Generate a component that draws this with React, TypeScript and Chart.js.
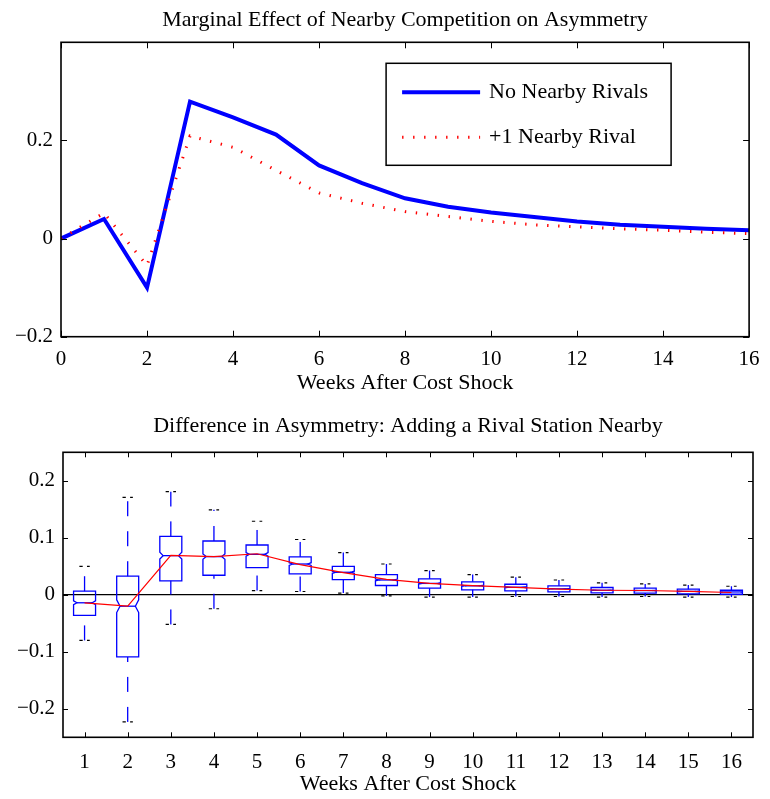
import React, { useEffect, useRef } from 'react';
import { Chart, registerables } from 'chart.js';

Chart.register(...registerables);

// ---------- Top panel data ----------
const TOP_TITLE = 'Marginal Effect of Nearby Competition on Asymmetry';
const BOTTOM_TITLE = 'Difference in Asymmetry: Adding a Rival Station Nearby';
const X_LABEL = 'Weeks After Cost Shock';

const weeks = [0, 1, 2, 3, 4, 5, 6, 7, 8, 9, 10, 11, 12, 13, 14, 15, 16];
const noNearbyRivals = [0, 0.04, -0.1, 0.279, 0.247, 0.212, 0.149, 0.113, 0.082, 0.065, 0.053, 0.044, 0.035, 0.028, 0.024, 0.02, 0.017];
const oneNearbyRival = [0, 0.052, -0.055, 0.209, 0.186, 0.139, 0.093, 0.072, 0.055, 0.045, 0.035, 0.028, 0.024, 0.02, 0.017, 0.013, 0.01];
const topXTicks = [0, 2, 4, 6, 8, 10, 12, 14, 16];
const topYTicks = [-0.2, 0, 0.2];

// ---------- Bottom panel data (box plots) ----------
const boxWeeks = [1, 2, 3, 4, 5, 6, 7, 8, 9, 10, 11, 12, 13, 14, 15, 16];
const upperAdjacent = [0.05, 0.171, 0.181, 0.149, 0.129, 0.097, 0.074, 0.054, 0.0425, 0.0355, 0.031, 0.026, 0.021, 0.019, 0.017, 0.015];
const q3 = [0.0063, 0.0326, 0.1025, 0.0944, 0.0874, 0.0664, 0.05, 0.0355, 0.028, 0.0227, 0.0185, 0.0157, 0.0128, 0.0116, 0.0098, 0.008];
const medians = [-0.014, -0.02, 0.0687, 0.067, 0.071, 0.054, 0.0395, 0.026, 0.02, 0.0157, 0.0133, 0.0105, 0.008, 0.0075, 0.006, 0.005];
const q1 = [-0.036, -0.109, 0.0245, 0.0343, 0.0477, 0.0367, 0.0267, 0.0163, 0.0116, 0.0087, 0.007, 0.0052, 0.0035, 0.003, 0.0017, 0.001];
const lowerAdjacent = [-0.08, -0.223, -0.052, -0.0245, 0.0075, 0.0058, 0.003, -0.002, -0.004, -0.004, -0.003, -0.003, -0.004, -0.003, -0.004, -0.004];
const centralLine = [-0.014, -0.02, 0.069, 0.067, 0.072, 0.053, 0.039, 0.027, 0.02, 0.016, 0.013, 0.01, 0.008, 0.0075, 0.006, 0.004];
const bottomXTicks = [1, 2, 3, 4, 5, 6, 7, 8, 9, 10, 11, 12, 13, 14, 15, 16];
const bottomYTicks = [-0.2, -0.1, 0, 0.1, 0.2];
const SAMPLE_SIZE = 400;

const FONT = '"Liberation Serif", "Times New Roman", Times, serif';
const BLUE = '#0000ff';
const RED = '#ff0000';

const fmtY = (v: number) => {
  if (Math.abs(v) < 1e-9) return '0';
  return (v < 0 ? '\u2212' : '') + Math.abs(v).toFixed(1);
};

const framePlugin = {
  id: 'frame',
  afterDatasetsDraw(chart: any, _args: any, opts: any) {
    const { ctx, chartArea, scales } = chart;
    const { left, right, top, bottom } = chartArea;
    const len = opts.tickLength || 5;
    ctx.save();
    ctx.strokeStyle = '#000';
    ctx.lineWidth = 1;
    ctx.setLineDash([]);
    ctx.beginPath();
    scales.x.ticks.forEach((t: any) => {
      const px = Math.round(scales.x.getPixelForValue(t.value)) + 0.5;
      ctx.moveTo(px, bottom);
      ctx.lineTo(px, bottom - len);
      ctx.moveTo(px, top);
      ctx.lineTo(px, top + len);
    });
    scales.y.ticks.forEach((t: any) => {
      const py = Math.round(scales.y.getPixelForValue(t.value)) + 0.5;
      ctx.moveTo(left, py);
      ctx.lineTo(left + len, py);
      ctx.moveTo(right, py);
      ctx.lineTo(right - len, py);
    });
    ctx.stroke();
    ctx.lineWidth = 1.6;
    ctx.strokeRect(left, top, right - left, bottom - top);
    ctx.restore();
  },
};

const legendPlugin = {
  id: 'boxLegend',
  afterDraw(chart: any) {
    const { ctx, chartArea } = chart;
    const bx = chartArea.right - 363;
    const by = chartArea.top + 21;
    const bw = 285;
    const bh = 102;
    ctx.save();
    ctx.fillStyle = '#fff';
    ctx.fillRect(bx, by, bw, bh);
    ctx.strokeStyle = '#000';
    ctx.lineWidth = 1.5;
    ctx.strokeRect(bx, by, bw, bh);
    const rows = [29, 74];
    chart.data.datasets.forEach((ds: any, i: number) => {
      const yy = by + rows[i];
      ctx.beginPath();
      ctx.strokeStyle = ds.borderColor;
      ctx.lineWidth = ds.borderWidth;
      ctx.setLineDash(ds.borderDash || []);
      ctx.lineCap = 'butt';
      ctx.moveTo(bx + 16, yy);
      ctx.lineTo(bx + 94, yy);
      ctx.stroke();
      ctx.setLineDash([]);
      ctx.fillStyle = '#000';
      ctx.font = `22px ${FONT}`;
      ctx.textBaseline = 'middle';
      ctx.textAlign = 'left';
      ctx.fillText(ds.label, bx + 103, yy);
    });
    ctx.restore();
  },
};

const boxPlugin = {
  id: 'boxes',
  beforeDatasetsDraw(chart: any) {
    const { ctx, scales } = chart;
    const x = scales.x;
    const y = scales.y;
    ctx.save();
    boxWeeks.forEach((w, i) => {
      const cx = x.getPixelForValue(w);
      const hw = x.getPixelForValue(w + 0.255) - cx;
      const capHw = x.getPixelForValue(w + 0.12) - cx;
      const nw = hw * 0.7;
      const notch = (1.57 * (q3[i] - q1[i])) / Math.sqrt(SAMPLE_SIZE);
      const pHi = y.getPixelForValue(upperAdjacent[i]);
      const pLo = y.getPixelForValue(lowerAdjacent[i]);
      const pQ3 = y.getPixelForValue(q3[i]);
      const pQ1 = y.getPixelForValue(q1[i]);
      const pMed = y.getPixelForValue(medians[i]);
      const pNt = y.getPixelForValue(medians[i] + notch);
      const pNb = y.getPixelForValue(medians[i] - notch);

      // whiskers
      ctx.strokeStyle = BLUE;
      ctx.lineWidth = 1.3;
      ctx.setLineDash([15, 15]);
      ctx.beginPath();
      ctx.moveTo(cx, pLo);
      ctx.lineTo(cx, pQ1);
      ctx.stroke();
      ctx.beginPath();
      ctx.moveTo(cx, pQ3);
      ctx.lineTo(cx, pHi);
      ctx.stroke();

      // adjacent value caps
      ctx.strokeStyle = '#000';
      ctx.lineWidth = 1.2;
      ctx.setLineDash([3.3, 4.3]);
      ctx.beginPath();
      ctx.moveTo(cx - capHw, pHi);
      ctx.lineTo(cx + capHw, pHi);
      ctx.stroke();
      ctx.beginPath();
      ctx.moveTo(cx - capHw, pLo);
      ctx.lineTo(cx + capHw, pLo);
      ctx.stroke();

      // notched box
      ctx.setLineDash([]);
      ctx.strokeStyle = BLUE;
      ctx.lineWidth = 1.3;
      ctx.beginPath();
      ctx.moveTo(cx - hw, pQ3);
      ctx.lineTo(cx + hw, pQ3);
      ctx.lineTo(cx + hw, pNt);
      ctx.lineTo(cx + nw, pMed);
      ctx.lineTo(cx + hw, pNb);
      ctx.lineTo(cx + hw, pQ1);
      ctx.lineTo(cx - hw, pQ1);
      ctx.lineTo(cx - hw, pNb);
      ctx.lineTo(cx - nw, pMed);
      ctx.lineTo(cx - hw, pNt);
      ctx.closePath();
      ctx.stroke();
      // median
      ctx.beginPath();
      ctx.moveTo(cx - nw, pMed);
      ctx.lineTo(cx + nw, pMed);
      ctx.stroke();
    });
    ctx.restore();
  },
};

const tickFont = { family: FONT, size: 21 };
const labelFont = { family: FONT, size: 22 };

function TopChart() {
  const ref = useRef<HTMLCanvasElement | null>(null);
  useEffect(() => {
    if (!ref.current) return;
    const chart = new Chart(ref.current, {
      type: 'line',
      data: {
        datasets: [
          {
            label: 'No Nearby Rivals',
            data: weeks.map((w, i) => ({ x: w, y: noNearbyRivals[i] })),
            borderColor: BLUE,
            borderWidth: 4,
            pointRadius: 0,
            order: 1,
          },
          {
            label: '+1 Nearby Rival',
            data: weeks.map((w, i) => ({ x: w, y: oneNearbyRival[i] })),
            borderColor: RED,
            borderWidth: 3,
            borderDash: [1.4, 9.6],
            pointRadius: 0,
            order: 0,
          },
        ],
      },
      options: {
        responsive: false,
        animation: false,
        layout: { padding: { left: 0, right: 17, top: 0, bottom: 0 } },
        plugins: {
          legend: { display: false },
          tooltip: { enabled: false },
          title: {
            display: true,
            text: TOP_TITLE,
            fullSize: false,
            color: '#000',
            font: { ...labelFont, weight: 'normal' },
            padding: { top: 6.8, bottom: 9.1 },
          },
          frame: { tickLength: 6 },
        } as any,
        scales: {
          x: {
            type: 'linear',
            min: 0,
            max: 16,
            grid: { display: false, drawTicks: false },
            border: { display: false },
            afterBuildTicks: (s: any) => {
              s.ticks = topXTicks.map((v) => ({ value: v }));
            },
            afterFit: (s: any) => {
              s.height = 63.3;
            },
            ticks: { color: '#000', font: tickFont, padding: 10.4, maxRotation: 0, autoSkip: false, callback: (v: any) => String(v) },
            title: { display: true, text: X_LABEL, color: '#000', font: labelFont, padding: { top: 0, bottom: 4 } },
          },
          y: {
            type: 'linear',
            min: -0.2,
            max: 0.4,
            grid: { display: false, drawTicks: false },
            border: { display: false },
            afterBuildTicks: (s: any) => {
              s.ticks = topYTicks.map((v) => ({ value: v }));
            },
            afterFit: (s: any) => {
              s.width = 61;
            },
            ticks: { color: '#000', font: tickFont, padding: 8, callback: (v: any) => fmtY(Number(v)) },
          },
        },
      } as any,
      plugins: [framePlugin, legendPlugin],
    });
    return () => chart.destroy();
  }, []);
  return <canvas ref={ref} width={770} height={400} style={{ display: 'block', width: 770, height: 400 }} />;
}

function BottomChart() {
  const ref = useRef<HTMLCanvasElement | null>(null);
  useEffect(() => {
    if (!ref.current) return;
    const chart = new Chart(ref.current, {
      type: 'line',
      data: {
        datasets: [
          {
            label: 'Median difference',
            data: boxWeeks.map((w, i) => ({ x: w, y: centralLine[i] })),
            borderColor: RED,
            borderWidth: 1.2,
            pointRadius: 0,
          },
        ],
      },
      options: {
        responsive: false,
        animation: false,
        layout: { padding: { left: 0, right: 17, top: 0, bottom: 0 } },
        plugins: {
          legend: { display: false },
          tooltip: { enabled: false },
          title: {
            display: true,
            text: BOTTOM_TITLE,
            fullSize: false,
            color: '#000',
            font: { ...labelFont, weight: 'normal' },
            padding: { top: 13.3, bottom: 12.6 },
          },
          frame: { tickLength: 5 },
        } as any,
        scales: {
          x: {
            type: 'linear',
            min: 0.5,
            max: 16.5,
            grid: { display: false, drawTicks: false },
            border: { display: false },
            afterBuildTicks: (s: any) => {
              s.ticks = bottomXTicks.map((v) => ({ value: v }));
            },
            afterFit: (s: any) => {
              s.height = 61.7;
            },
            ticks: { color: '#000', font: tickFont, padding: 13, maxRotation: 0, autoSkip: false, callback: (v: any) => String(v) },
            title: { display: true, text: X_LABEL, color: '#000', font: labelFont, padding: { top: 0, bottom: 1.5 } },
          },
          y: {
            type: 'linear',
            min: -0.25,
            max: 0.25,
            grid: {
              display: true,
              drawTicks: false,
              color: (c: any) => (c.tick && Math.abs(c.tick.value) < 1e-9 ? '#000' : 'rgba(0,0,0,0)'),
              lineWidth: 1.2,
            },
            border: { display: false },
            afterBuildTicks: (s: any) => {
              s.ticks = bottomYTicks.map((v) => ({ value: v }));
            },
            afterFit: (s: any) => {
              s.width = 63;
            },
            ticks: { color: '#000', font: tickFont, padding: 8, callback: (v: any) => fmtY(Number(v)) },
          },
        },
      } as any,
      plugins: [boxPlugin, framePlugin],
    });
    return () => chart.destroy();
  }, []);
  return <canvas ref={ref} width={770} height={399} style={{ display: 'block', width: 770, height: 399 }} />;
}

export default function App() {
  return (
    <div style={{ position: 'absolute', left: 0, top: 0, width: 770, height: 799, background: '#fff' }}>
      <TopChart />
      <BottomChart />
    </div>
  );
}
